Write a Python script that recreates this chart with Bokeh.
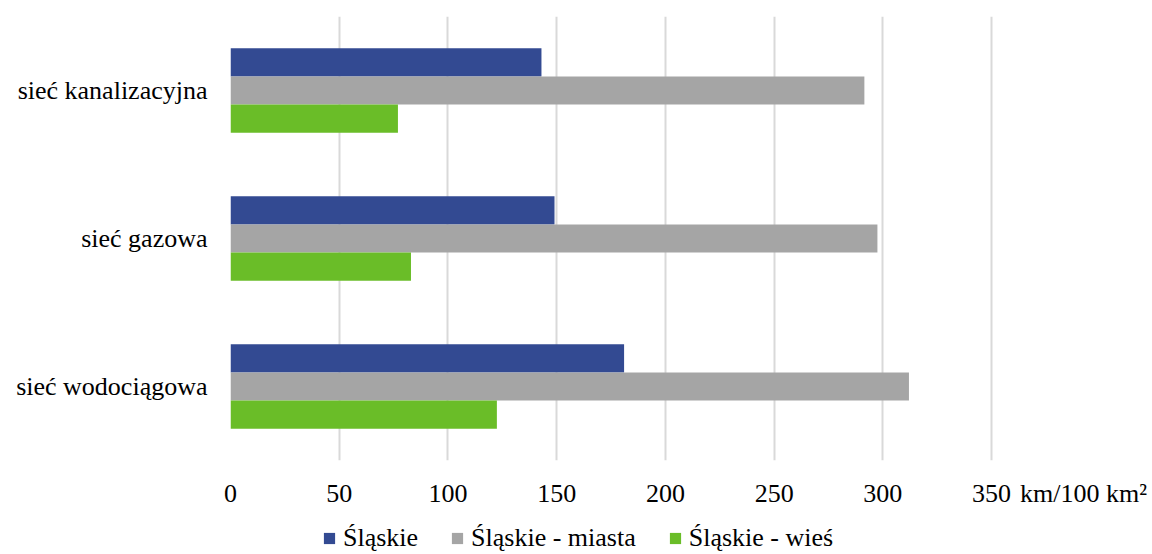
from bokeh.plotting import figure
from bokeh.layouts import column
from bokeh.models import ColumnDataSource, Legend, LegendItem, FixedTicker, Range1d
from bokeh.transform import dodge
from bokeh.embed import file_html
from bokeh.resources import INLINE

categories = ["sieć wodociągowa", "sieć gazowa", "sieć kanalizacyjna"]
slaskie = [181, 149, 143]
miasta = [312, 297.5, 291.5]
wies = [122.5, 83, 77]
series_names = ["Śląskie", "Śląskie - miasta", "Śląskie - wieś"]
colors = ["#334A92", "#A5A5A5", "#6ABD28"]
ticks = [0, 50, 100, 150, 200, 250, 300, 350]
unit_label = "km/100 km²"

# layout constants
X_END = 424          # axis range extends past last tick to leave room for unit text
UNIT_POS = 392.3     # where the unit text sits on the axis line

src = ColumnDataSource(dict(cat=categories, s=slaskie, m=miasta, w=wies))

FONT = "'Liberation Serif', 'Times New Roman', serif"
FS = "26px"
p = figure(width=1152, height=510, y_range=categories, x_range=Range1d(0, X_END),
           output_backend="svg", toolbar_location=None,
           min_border_left=230, min_border_right=0, min_border_top=16, min_border_bottom=50)
p.outline_line_color = None

bh = 0.19
r1 = p.hbar(y=dodge("cat", bh, range=p.y_range), right="s", left=0, height=bh, source=src, color=colors[0], line_color=None)
r2 = p.hbar(y=dodge("cat", 0, range=p.y_range), right="m", left=0, height=bh, source=src, color=colors[1], line_color=None)
r3 = p.hbar(y=dodge("cat", -bh, range=p.y_range), right="w", left=0, height=bh, source=src, color=colors[2], line_color=None)

p.xaxis.ticker = FixedTicker(ticks=ticks + [UNIT_POS])
p.xaxis.major_label_overrides = {UNIT_POS: unit_label}
p.xgrid.ticker = FixedTicker(ticks=ticks)
p.xgrid.grid_line_color = "#D9D9D9"
p.xgrid.grid_line_width = 2
p.ygrid.grid_line_color = None
for ax in (p.xaxis, p.yaxis):
    ax.axis_line_color = None
    ax.major_tick_line_color = None
    ax.minor_tick_line_color = None
    ax.major_tick_out = 0
    ax.major_tick_in = 0
    ax.major_label_text_font = FONT
    ax.major_label_text_font_size = FS
    ax.major_label_text_color = "#000000"
p.xaxis.major_label_standoff = 18
p.yaxis.major_label_standoff = 23

# legend strip below the chart (proxy renderers hold no drawable values)
p2 = figure(width=1152, height=44, x_range=(0, 1), y_range=(0, 1),
            output_backend="svg", toolbar_location=None,
            x_axis_type=None, y_axis_type=None, min_border=0)
p2.outline_line_color = None
p2.xgrid.grid_line_color = None
p2.ygrid.grid_line_color = None
proxy = ColumnDataSource(dict(y=[float("nan")], right=[float("nan")]))
lr = [p2.hbar(y="y", right="right", left=0, height=0.1, source=proxy, color=c, line_color=None) for c in colors]

legend = Legend(items=[LegendItem(label=n, renderers=[r]) for n, r in zip(series_names, lr)],
                orientation="horizontal", location=(92, 1),
                label_text_font=FONT, label_text_font_size=FS, label_text_color="#000000",
                glyph_width=14, glyph_height=14, label_standoff=7, spacing=32,
                padding=0, margin=0, border_line_color=None, background_fill_alpha=0)
p2.add_layout(legend, "center")

layout = column(p, p2, spacing=0)
open("out.html", "w").write(file_html(layout, INLINE))
